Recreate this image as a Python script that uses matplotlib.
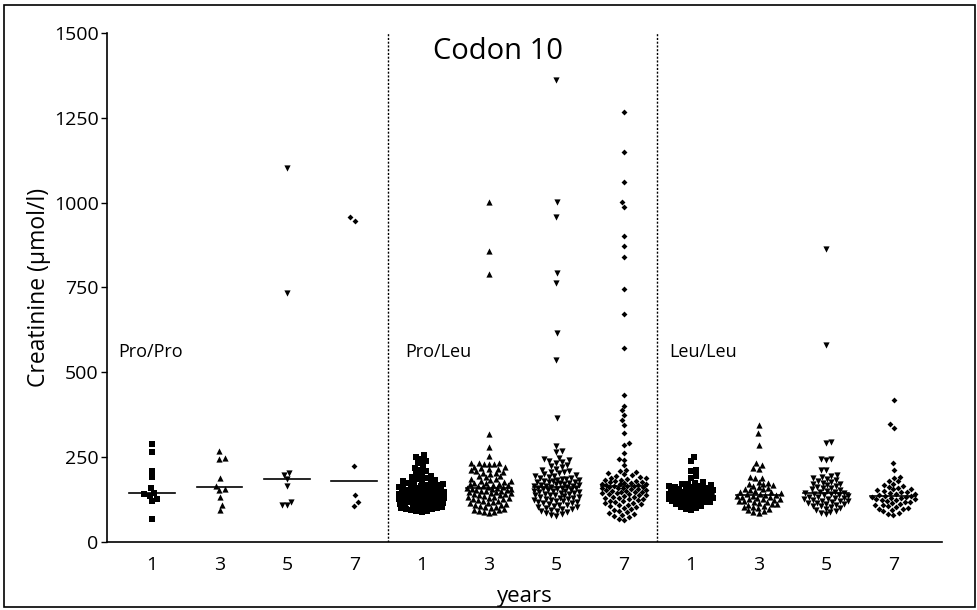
import matplotlib
matplotlib.use("Agg")
import matplotlib.pyplot as plt
import numpy as np
from matplotlib.patches import Rectangle

# ---- donnees (umol/l) ----
genotypes = ["Pro/Pro", "Pro/Leu", "Leu/Leu"]
year_labels = ["1", "3", "5", "7"]

pp_y1 = [288, 264, 209, 191, 159, 145, 140, 136, 128, 122, 69]
pp_y3 = [268, 248, 245, 188, 166, 156, 154, 132, 108, 95]
pp_y5 = [1103, 733, 202, 198, 186, 165, 117, 110, 108]
pp_y7 = [957, 947, 224, 138, 117, 106]

pl_y1 = [256, 251, 244, 238, 232, 226, 219, 213, 208, 203,
         198, 195, 192, 189, 186, 184, 181,
         179, 177, 175, 173, 171, 169, 167, 166, 164, 163, 162, 161,
         159, 158, 157, 156, 155, 154, 153, 152, 151, 150, 149, 148, 147, 146, 145,
         144, 143, 142, 141, 140,
         139, 138, 137, 137, 136, 135, 134, 133, 132, 131, 130, 129, 128, 127, 126,
         125, 124, 123, 122, 121, 120, 120,
         118, 116, 115, 113, 112, 110, 109, 107, 106, 104, 103, 102, 101, 100,
         98, 96, 94, 92, 90, 89]
pl_y3 = [1001, 858, 789, 317, 281, 253,
         234, 233, 232, 231, 230, 229,
         222, 220, 218, 216, 214, 211, 208, 206, 204, 202,
         199, 195, 193, 191, 187, 185, 183, 181, 179, 177,
         175, 173, 172, 170, 169, 167, 166, 164, 163, 161, 160, 158, 157, 156,
         155, 154, 153, 151, 150, 149, 147, 146, 145, 143, 142, 140, 139, 137, 136,
         134, 133, 131, 130, 128,
         126, 124, 122, 120, 118, 116, 114, 112, 110, 108, 106, 104, 102, 100,
         97, 95, 93, 91, 89, 87, 86]
pl_y5 = [1362, 1001, 957, 792, 762, 617, 535, 366,
         284, 268, 264, 248, 245, 242, 238, 236, 234,
         228, 224, 220, 216, 213, 210, 207, 205, 203,
         199, 197, 195, 194, 192, 190, 189, 187, 186, 184, 183, 181, 180, 178,
         177, 176, 174, 173, 172, 170, 169, 168, 166, 165, 164, 163, 161, 160,
         159, 158, 157, 155, 154, 153, 151, 150, 149, 147, 146, 145, 143, 142, 141,
         139, 138, 137, 135, 134,
         132, 131, 129, 128, 126, 125, 123, 122, 120, 119, 117, 116, 114, 112, 110,
         108, 106, 104, 102, 100, 98, 96, 94, 92, 90, 88, 85, 82, 79, 76]
pl_y7 = [1268, 1150, 1062, 1001, 988, 903, 872, 841, 745, 672, 572, 433, 402, 388,
         374, 359, 345, 320, 291, 287, 261, 245, 242, 227,
         213, 209, 205, 202, 199, 196, 194, 192, 190, 188, 186, 184, 182, 181, 179,
         178, 176, 175, 173, 172, 171, 170, 168, 167, 166, 165,
         164, 163, 162, 160, 159, 158, 156, 155, 154, 152, 151, 150, 148, 147, 146,
         144, 143, 142, 140, 139, 137, 136, 134, 133, 131, 130, 128, 126, 124, 122,
         120, 118, 116, 114, 112, 110, 108, 106, 104, 101, 98, 95, 92, 89, 86, 83,
         80, 77, 73, 69, 66]

ll_y1 = [250, 239, 213, 210, 194, 190, 178, 175, 172, 170, 168, 166, 164, 162, 161,
         159, 158, 156, 155, 153, 152, 150, 149, 147, 146, 144, 143, 141, 140, 139,
         138, 137, 135, 134, 133, 132, 131, 130, 129, 127, 126, 125, 124, 123, 121,
         120, 119, 118, 116, 114, 112, 110, 107, 104, 101, 98, 95]
ll_y3 = [345, 320, 286, 232, 226, 217, 214, 192, 190, 189, 178, 175, 172, 170, 167,
         165, 162, 160, 157, 155, 152, 150, 148, 146, 144, 142, 140, 139, 138, 136,
         135, 134, 132, 130, 128, 127, 126, 124, 122, 120, 119, 118, 116, 113, 111,
         110, 107, 104, 103, 101, 98, 95, 92, 89, 86]
ll_y5 = [863, 580, 296, 292, 246, 245, 243, 213, 211, 198, 195, 192, 190, 185, 182,
         180, 177, 175, 172, 170, 167, 165, 162, 160, 158, 155, 153, 150, 148, 146,
         144, 143, 142, 140, 138, 137, 136, 134, 132, 130, 129, 128, 126, 124, 122,
         121, 120, 118, 116, 114, 113, 112, 110, 107, 106, 104, 101, 98, 95, 92, 89,
         85, 81]
ll_y7 = [418, 348, 337, 232, 213, 192, 190, 181, 179, 171, 168, 165, 162, 160, 157,
         155, 152, 150, 148, 146, 144, 142, 140, 138, 136, 135, 134, 132, 131, 130,
         128, 126, 125, 124, 121, 118, 117, 115, 112, 109, 108, 106, 103, 100, 97,
         96, 94, 90, 86, 82, 80]

groupes = [pp_y1, pp_y3, pp_y5, pp_y7,
           pl_y1, pl_y3, pl_y5, pl_y7,
           ll_y1, ll_y3, ll_y5, ll_y7]

# echelles approx. en pixels (pour la disposition en essaim)
PX_X = 67.36   # px par unite en x
PX_Y = 0.3393  # px par umol/l


def essaim(valeurs, d=5.0, demi_max=0.33):
    """Place chaque point au plus pres du centre sans chevaucher les autres."""
    v = np.asarray(valeurs, dtype=float)
    y = v * PX_Y
    lim = demi_max * PX_X
    cands = np.arange(-lim, lim + 0.01, 1.0)
    cands = cands[np.lexsort((cands, np.abs(cands)))]
    off = np.zeros(len(v))
    px, py = [], []
    for k, i in enumerate(np.argsort(v)):
        choix, meilleur = 0.0, -1.0
        if px:
            ax_ = np.array(px)
            ay_ = np.array(py)
            proche = np.abs(ay_ - y[i]) < d
            ax_, ay_ = ax_[proche], ay_[proche]
            for c in (cands if k % 2 else -cands):
                if len(ax_) == 0:
                    choix = c
                    break
                dist = np.min(np.hypot(ax_ - c, ay_ - y[i]))
                if dist >= d:
                    choix = c
                    break
                if dist > meilleur:
                    meilleur, choix = dist, c
        px.append(choix)
        py.append(y[i])
        off[i] = choix / PX_X
    return off


plt.rcParams["font.family"] = ["Open Sans", "DejaVu Sans"]

fig = plt.figure(figsize=(9.78, 6.10), dpi=100)
ax = fig.add_axes([0.1094, 0.1115, 0.8536, 0.8344])

marqueurs = [("s", 14), ("^", 20), ("v", 20), ("D", 9)]

for i, vals in enumerate(groupes):
    m, taille = marqueurs[i % 4]
    xs = i + essaim(vals)
    ax.scatter(xs, vals, marker=m, s=taille, color="black", linewidths=0, zorder=3)
    med = np.median(vals)
    ax.plot([i - 0.34, i + 0.34], [med, med], color="black", lw=1.2, zorder=4)

# separations entre genotypes
for xsep in [3.5, 7.5]:
    ax.plot([xsep, xsep], [0, 1500], color="black", lw=1.0,
            linestyle=(0, (1.5, 1.2)), zorder=2)

ax.set_xlim(-0.67, 11.72)
ax.set_ylim(0, 1500)
ax.set_yticks([0, 250, 500, 750, 1000, 1250, 1500])
ax.set_xticks(range(12))
ax.set_xticklabels(year_labels * 3)
ax.tick_params(axis="x", length=0, pad=10, labelsize=14)
ax.tick_params(axis="y", length=4, width=1, pad=2, labelsize=14)
for s in ["top", "right"]:
    ax.spines[s].set_visible(False)
for s in ["left", "bottom"]:
    ax.spines[s].set_linewidth(1.2)

ax.set_ylabel("Creatinine (µmol/l)", fontsize=16.5, labelpad=2)
ax.set_xlabel("years", fontsize=16, labelpad=9)

ax.text(5.14, 1445, "Codon 10", fontsize=21, ha="center", va="center")
for xg, nom in zip([-0.5, 3.76, 7.68], genotypes):
    ax.text(xg, 560, nom, fontsize=13, ha="left", va="center")

# cadre autour de la figure
fig.patches.append(Rectangle((0.004, 0.005), 0.993, 0.987, transform=fig.transFigure,
                             fill=False, edgecolor="black", linewidth=1.2))

plt.savefig("out.png", dpi=100)
